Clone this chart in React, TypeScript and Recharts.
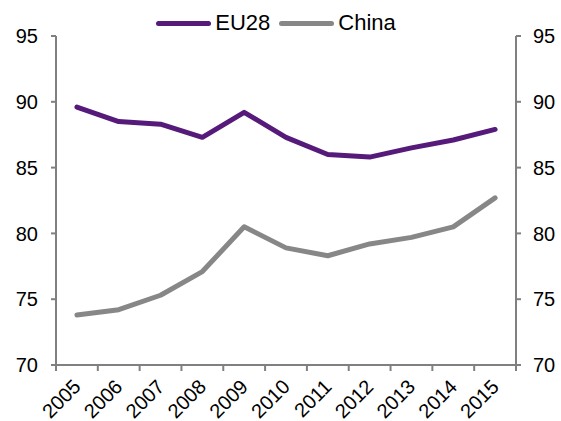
import React from 'react';
import { LineChart, Line, XAxis, YAxis, Legend } from 'recharts';

const years = ['2005', '2006', '2007', '2008', '2009', '2010', '2011', '2012', '2013', '2014', '2015'];
const eu28 = [89.6, 88.5, 88.3, 87.3, 89.2, 87.3, 86.0, 85.8, 86.5, 87.1, 87.9];
const china = [73.8, 74.2, 75.3, 77.1, 80.5, 78.9, 78.3, 79.2, 79.7, 80.5, 82.7];
const yTicks = [70, 75, 80, 85, 90, 95];
const seriesOrder = ['EU28', 'China'];

const data = years.map((year, i) => ({ idx: i, year, eu28: eu28[i], china: china[i] }));

// labels sit on the category centres, tick marks on the boundaries between them
const xTicks = years.flatMap((_, i) => [i - 0.5, i]).concat(years.length - 0.5);

const FONT = '"Liberation Sans", Arial, sans-serif';
const AXIS = '#808080';

function XTick(props: any) {
  const { x, y, payload } = props;
  const v = payload.value;
  if (Number.isInteger(v)) {
    const tx = x + 5;
    const ty = y + 23;
    return (
      <text
        x={tx}
        y={ty}
        transform={`rotate(-45, ${tx}, ${ty})`}
        textAnchor="end"
        fontSize={20}
        fontFamily={FONT}
        fill="#000"
      >
        {years[v]}
      </text>
    );
  }
  return <line x1={x} x2={x} y1={y} y2={y + 6} stroke={AXIS} strokeWidth={2} />;
}

function LegendContent(props: any) {
  const items = [...(props.payload || [])].sort(
    (a: any, b: any) => seriesOrder.indexOf(a.value) - seriesOrder.indexOf(b.value)
  );
  return (
    <div
      style={{
        display: 'flex',
        justifyContent: 'center',
        alignItems: 'center',
        fontFamily: FONT,
        fontSize: 22,
        color: '#000',
      }}
    >
      {items.map((entry: any) => (
        <div key={entry.value} style={{ display: 'flex', alignItems: 'center', marginRight: 9 }}>
          <span
            style={{
              display: 'inline-block',
              width: 55,
              height: 5,
              borderRadius: 3,
              background: entry.color,
              marginRight: 4,
            }}
          />
          <span>{entry.value}</span>
        </div>
      ))}
    </div>
  );
}

export default function App() {
  return (
    <div style={{ position: 'absolute', left: 0, top: 0, background: '#fff' }}>
      <LineChart width={561} height={421} data={data} margin={{ top: 36, right: 0, bottom: 0, left: 0 }}>
        <XAxis
          dataKey="idx"
          type="number"
          domain={[-0.5, 10.5]}
          ticks={xTicks}
          interval={0}
          tickSize={0}
          tickMargin={0}
          tickLine={false}
          tick={<XTick />}
          height={56}
          stroke={AXIS}
          strokeWidth={2}
        />
        <YAxis
          yAxisId="left"
          domain={[70, 95]}
          ticks={yTicks}
          width={56}
          tickSize={5}
          tickMargin={13}
          stroke={AXIS}
          strokeWidth={2}
          tick={{ fill: '#000', fontSize: 20, fontFamily: FONT }}
        />
        <YAxis
          yAxisId="right"
          orientation="right"
          domain={[70, 95]}
          ticks={yTicks}
          width={45}
          tickSize={5}
          tickMargin={12}
          stroke={AXIS}
          strokeWidth={2}
          tick={{ fill: '#000', fontSize: 20, fontFamily: FONT }}
        />
        <Legend
          layout="horizontal"
          verticalAlign="middle"
          align="center"
          wrapperStyle={{ top: 10, left: 0, width: 561 }}
          content={<LegendContent />}
        />
        <Line
          yAxisId="left"
          dataKey="eu28"
          name="EU28"
          stroke="#561b7a"
          strokeWidth={5}
          strokeLinecap="round"
          strokeLinejoin="round"
          dot={false}
          isAnimationActive={false}
        />
        <Line
          yAxisId="right"
          dataKey="china"
          name="China"
          stroke="#878787"
          strokeWidth={5}
          strokeLinecap="round"
          strokeLinejoin="round"
          dot={false}
          isAnimationActive={false}
        />
      </LineChart>
    </div>
  );
}
